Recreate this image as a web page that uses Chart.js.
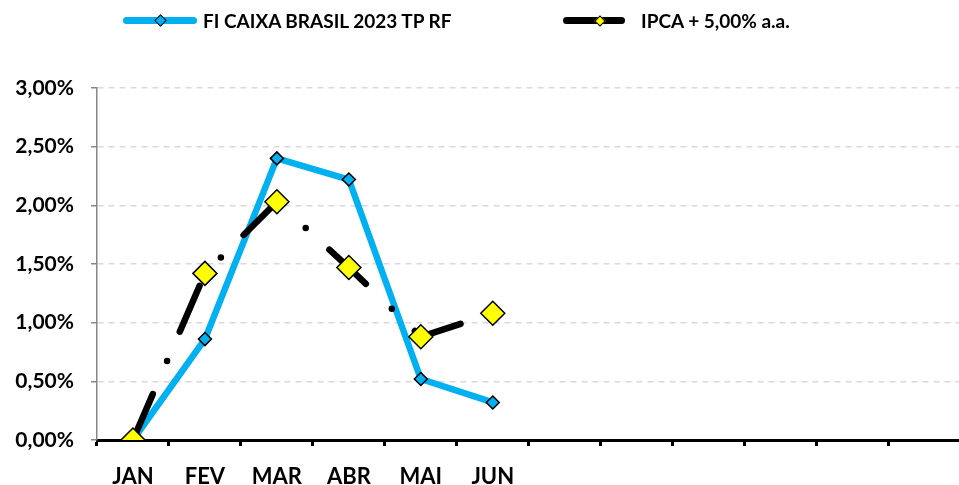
<!DOCTYPE html>
<html>
<head>
<meta charset="utf-8">
<script src="https://cdn.jsdelivr.net/npm/chart.js@4"></script>
<style>
  html, body { margin:0; padding:0; background:#fff; overflow:hidden; }
  #wrap { position:relative; width:974px; height:485px; }
  #chart { position:absolute; left:0; top:0; }
  .leg { position:absolute; font-family: Lato, "Open Sans", sans-serif; font-weight:700; font-size:19px; color:#000; white-space:nowrap; line-height:22px; }
  .ln { position:absolute; height:7px; border-radius:4px; }
  .mk { position:absolute; transform:rotate(45deg); border:1.5px solid #000; box-sizing:border-box; }
</style>
</head>
<body>
<div id="wrap">
  <canvas id="chart" width="974" height="485"></canvas>
  <div class="ln" style="left:123px; top:17px; width:74px; background:#00B0F0;"></div>
  <div class="mk" style="left:156px; top:16px; width:9px; height:9px; background:#00B0F0;"></div>
  <div class="leg" style="left:203px; top:10px;">FI CAIXA BRASIL 2023 TP RF</div>
  <div class="ln" style="left:563px; top:17px; width:62px; background:#000;"></div>
  <div class="mk" style="left:596px; top:16.5px; width:8px; height:8px; background:#FFFF00; border-width:1px;"></div>
  <div class="leg" style="left:641px; top:10px;">IPCA + 5,00% a.a.</div>
</div>
<script>
const categories = ['JAN','FEV','MAR','ABR','MAI','JUN','','','','','',''];
const fiCaixa = [0, 0.86, 2.40, 2.22, 0.52, 0.32];
const ipca = [0, 1.42, 2.03, 1.47, 0.88, 1.08];
const seriesNames = ['FI CAIXA BRASIL 2023 TP RF', 'IPCA + 5,00% a.a.'];
const yMin = 0, yMax = 3, yStep = 0.5;

const FONT = 'Lato, "Open Sans", sans-serif';

new Chart(document.getElementById('chart'), {
  type: 'line',
  data: {
    labels: categories,
    datasets: [
      {
        label: seriesNames[0],
        data: fiCaixa,
        borderColor: '#00B0F0',
        borderWidth: 6.5,
        borderJoinStyle: 'round',
        tension: 0,
        pointStyle: 'rectRot',
        pointRadius: 6.5,
        pointBackgroundColor: '#00B0F0',
        pointBorderColor: '#000',
        pointBorderWidth: 1.5,
        order: 1
      },
      {
        label: seriesNames[1],
        data: ipca,
        borderColor: '#000',
        borderWidth: 6.5,
        borderDash: [50, 36, 0, 32],
        borderCapStyle: 'round',
        tension: 0,
        pointStyle: 'rectRot',
        pointRadius: 12,
        pointBackgroundColor: '#FFFF00',
        pointBorderColor: '#000',
        pointBorderWidth: 1.5,
        order: 0
      }
    ]
  },
  options: {
    responsive: false,
    animation: false,
    layout: { padding: { top: 88, right: 0, left: 0, bottom: 0 } },
    plugins: { legend: { display: false }, tooltip: { enabled: false } },
    scales: {
      x: {
        offset: true,
        grid: { display: true, offset: true, drawOnChartArea: false, tickLength: 6, tickColor: '#000', lineWidth: 3 },
        border: { display: true, color: '#000', width: 3 },
        ticks: { color: '#000', font: { family: FONT, weight: 'bold', size: 22 }, padding: 18, autoSkip: false, maxRotation: 0 },
        afterFit: s => { s.height = 45; s.paddingRight = 0; s.paddingLeft = 0; }
      },
      y: {
        min: yMin, max: yMax,
        ticks: {
          stepSize: yStep,
          color: '#000',
          padding: 17,
          font: { family: FONT, weight: 'bold', size: 21 },
          callback: v => v.toFixed(2).replace('.', ',') + '%'
        },
        grid: { color: '#D9D9D9', lineWidth: 1.5, tickLength: 6, tickColor: '#868686', tickBorderDash: [] },
        border: { display: true, color: '#868686', width: 1.5, dash: [6, 5] },
        afterFit: s => { s.width = 97; }
      }
    }
  }
});
</script>
</body>
</html>
